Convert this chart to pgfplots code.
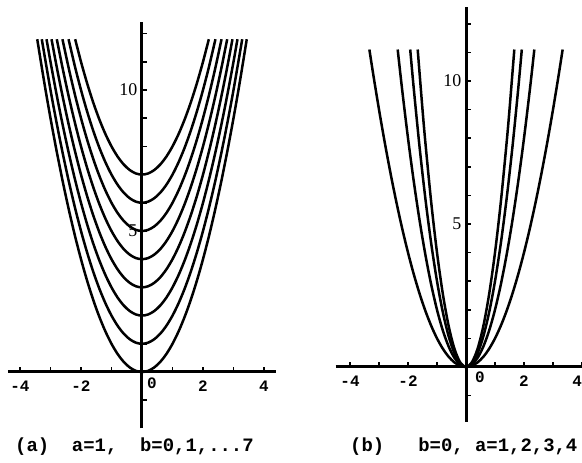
\documentclass[border=0pt]{standalone}
\usepackage{fontspec}
\setmainfont{Liberation Serif}
\newfontfamily\tw{Liberation Mono}
\usepackage{pgfplots}
\pgfplotsset{compat=1.18}

% Common look of both panels: crossing axes, unit ticks, typewriter tick labels
\pgfplotsset{
  panel/.style={
    axis lines=middle,
    enlargelimits=false,
    clip=false,
    axis line style={line width=3bp,-},
    xtick={-4,-2,2,4},
    minor xtick={-3,-1,1,3},
    ytick={5,10},
    yticklabels={5,10},
    minor ytick={-1,1,2,3,4,6,7,8,9,11,12},
    major tick length=5bp,
    minor tick length=5bp,
    every x tick/.style={black,line width=1.6bp,yshift=2.5bp},
    every y tick/.style={black,line width=1.6bp,xshift=2.5bp},
    xticklabel style={font=\tw\bfseries\fontsize{16}{16}\selectfont,
      anchor=north,inner sep=0pt,yshift=-6bp},
    yticklabel style={font=\fontsize{18}{18}\selectfont,
      anchor=east,inner sep=0pt,xshift=-2bp},
    every axis plot post/.append style={black,solid,line width=2.5bp,
      smooth,mark=none},
  },
}
\newcommand{\capfont}{\tw\bfseries\fontsize{19}{19}\selectfont}

\begin{document}
\begin{tikzpicture}
\useasboundingbox (0,0) rectangle (582bp,463bp);

% (a) y = x^2 + b, b = 0,...,7
\begin{axis}[panel,
  at={(7.8bp,34.6bp)}, anchor=south west,
  x=30.5bp, y=28.2bp,
  xmin=-4.4, xmax=4.4, ymin=-2.0, ymax=12.4,
  xticklabels={-4,-2,2,4}]
\addplot coordinates {(-3.435,11.8) (-3.2,10.24) (-3.0,9) (-2.8,7.84) (-2.6,6.76) (-2.4,5.76) (-2.2,4.84) (-2.0,4) (-1.8,3.24) (-1.6,2.56) (-1.4,1.96) (-1.2,1.44) (-1.0,1) (-0.8,0.64) (-0.6,0.36) (-0.4,0.16) (-0.2,0.04) (0,0) (0.2,0.04) (0.4,0.16) (0.6,0.36) (0.8,0.64) (1.0,1) (1.2,1.44) (1.4,1.96) (1.6,2.56) (1.8,3.24) (2.0,4) (2.2,4.84) (2.4,5.76) (2.6,6.76) (2.8,7.84) (3.0,9) (3.2,10.24) (3.435,11.8)};
\addplot coordinates {(-3.286,11.8) (-3.0,10) (-2.8,8.84) (-2.6,7.76) (-2.4,6.76) (-2.2,5.84) (-2.0,5) (-1.8,4.24) (-1.6,3.56) (-1.4,2.96) (-1.2,2.44) (-1.0,2) (-0.8,1.64) (-0.6,1.36) (-0.4,1.16) (-0.2,1.04) (0,1) (0.2,1.04) (0.4,1.16) (0.6,1.36) (0.8,1.64) (1.0,2) (1.2,2.44) (1.4,2.96) (1.6,3.56) (1.8,4.24) (2.0,5) (2.2,5.84) (2.4,6.76) (2.6,7.76) (2.8,8.84) (3.0,10) (3.286,11.8)};
\addplot coordinates {(-3.130,11.8) (-3.0,11) (-2.8,9.84) (-2.6,8.76) (-2.4,7.76) (-2.2,6.84) (-2.0,6) (-1.8,5.24) (-1.6,4.56) (-1.4,3.96) (-1.2,3.44) (-1.0,3) (-0.8,2.64) (-0.6,2.36) (-0.4,2.16) (-0.2,2.04) (0,2) (0.2,2.04) (0.4,2.16) (0.6,2.36) (0.8,2.64) (1.0,3) (1.2,3.44) (1.4,3.96) (1.6,4.56) (1.8,5.24) (2.0,6) (2.2,6.84) (2.4,7.76) (2.6,8.76) (2.8,9.84) (3.0,11) (3.130,11.8)};
\addplot coordinates {(-2.966,11.8) (-2.8,10.84) (-2.6,9.76) (-2.4,8.76) (-2.2,7.84) (-2.0,7) (-1.8,6.24) (-1.6,5.56) (-1.4,4.96) (-1.2,4.44) (-1.0,4) (-0.8,3.64) (-0.6,3.36) (-0.4,3.16) (-0.2,3.04) (0,3) (0.2,3.04) (0.4,3.16) (0.6,3.36) (0.8,3.64) (1.0,4) (1.2,4.44) (1.4,4.96) (1.6,5.56) (1.8,6.24) (2.0,7) (2.2,7.84) (2.4,8.76) (2.6,9.76) (2.8,10.84) (2.966,11.8)};
\addplot coordinates {(-2.793,11.8) (-2.6,10.76) (-2.4,9.76) (-2.2,8.84) (-2.0,8) (-1.8,7.24) (-1.6,6.56) (-1.4,5.96) (-1.2,5.44) (-1.0,5) (-0.8,4.64) (-0.6,4.36) (-0.4,4.16) (-0.2,4.04) (0,4) (0.2,4.04) (0.4,4.16) (0.6,4.36) (0.8,4.64) (1.0,5) (1.2,5.44) (1.4,5.96) (1.6,6.56) (1.8,7.24) (2.0,8) (2.2,8.84) (2.4,9.76) (2.6,10.76) (2.793,11.8)};
\addplot coordinates {(-2.608,11.8) (-2.4,10.76) (-2.2,9.84) (-2.0,9) (-1.8,8.24) (-1.6,7.56) (-1.4,6.96) (-1.2,6.44) (-1.0,6) (-0.8,5.64) (-0.6,5.36) (-0.4,5.16) (-0.2,5.04) (0,5) (0.2,5.04) (0.4,5.16) (0.6,5.36) (0.8,5.64) (1.0,6) (1.2,6.44) (1.4,6.96) (1.6,7.56) (1.8,8.24) (2.0,9) (2.2,9.84) (2.4,10.76) (2.608,11.8)};
\addplot coordinates {(-2.408,11.8) (-2.2,10.84) (-2.0,10) (-1.8,9.24) (-1.6,8.56) (-1.4,7.96) (-1.2,7.44) (-1.0,7) (-0.8,6.64) (-0.6,6.36) (-0.4,6.16) (-0.2,6.04) (0,6) (0.2,6.04) (0.4,6.16) (0.6,6.36) (0.8,6.64) (1.0,7) (1.2,7.44) (1.4,7.96) (1.6,8.56) (1.8,9.24) (2.0,10) (2.2,10.84) (2.408,11.8)};
\addplot coordinates {(-2.191,11.8) (-2.0,11) (-1.8,10.24) (-1.6,9.56) (-1.4,8.96) (-1.2,8.44) (-1.0,8) (-0.8,7.64) (-0.6,7.36) (-0.4,7.16) (-0.2,7.04) (0,7) (0.2,7.04) (0.4,7.16) (0.6,7.36) (0.8,7.64) (1.0,8) (1.2,8.44) (1.4,8.96) (1.6,9.56) (1.8,10.24) (2.0,11) (2.191,11.8)};
\node[anchor=north west,inner sep=0pt,font=\tw\bfseries\fontsize{16}{16}\selectfont]
  at (axis cs:0,0) [xshift=5bp,yshift=-6bp] {0};
\end{axis}

% (b) y = a x^2, a = 1,2,3,4
\begin{axis}[panel,
  at={(335.5bp,41.1bp)}, anchor=south west,
  x=29bp, y=28.6bp,
  xmin=-4.5, xmax=4.0, ymin=-1.92, ymax=12.6,
  xticklabels={-4,-2,2,\llap{4}}]
\addplot coordinates {(-3.332,11.1) (-3.2,10.24) (-3.0,9) (-2.8,7.84) (-2.6,6.76) (-2.4,5.76) (-2.2,4.84) (-2.0,4) (-1.8,3.24) (-1.6,2.56) (-1.4,1.96) (-1.2,1.44) (-1.0,1) (-0.8,0.64) (-0.6,0.36) (-0.4,0.16) (-0.2,0.04) (0,0) (0.2,0.04) (0.4,0.16) (0.6,0.36) (0.8,0.64) (1.0,1) (1.2,1.44) (1.4,1.96) (1.6,2.56) (1.8,3.24) (2.0,4) (2.2,4.84) (2.4,5.76) (2.6,6.76) (2.8,7.84) (3.0,9) (3.2,10.24) (3.332,11.1)};
\addplot coordinates {(-2.356,11.1) (-2.2,9.68) (-2.0,8) (-1.8,6.48) (-1.6,5.12) (-1.4,3.92) (-1.2,2.88) (-1.0,2) (-0.8,1.28) (-0.6,0.72) (-0.4,0.32) (-0.2,0.08) (0,0) (0.2,0.08) (0.4,0.32) (0.6,0.72) (0.8,1.28) (1.0,2) (1.2,2.88) (1.4,3.92) (1.6,5.12) (1.8,6.48) (2.0,8) (2.2,9.68) (2.356,11.1)};
\addplot coordinates {(-1.924,11.1) (-1.8,9.72) (-1.6,7.68) (-1.4,5.88) (-1.2,4.32) (-1.0,3) (-0.8,1.92) (-0.6,1.08) (-0.4,0.48) (-0.2,0.12) (0,0) (0.2,0.12) (0.4,0.48) (0.6,1.08) (0.8,1.92) (1.0,3) (1.2,4.32) (1.4,5.88) (1.6,7.68) (1.8,9.72) (1.924,11.1)};
\addplot coordinates {(-1.666,11.1) (-1.5,9) (-1.4,7.84) (-1.2,5.76) (-1.0,4) (-0.8,2.56) (-0.6,1.44) (-0.4,0.64) (-0.2,0.16) (0,0) (0.2,0.16) (0.4,0.64) (0.6,1.44) (0.8,2.56) (1.0,4) (1.2,5.76) (1.4,7.84) (1.5,9) (1.666,11.1)};
\node[anchor=north west,inner sep=0pt,font=\tw\bfseries\fontsize{16}{16}\selectfont]
  at (axis cs:0,0) [xshift=9bp,yshift=-5bp] {0};
\end{axis}

% Panel captions
\node[anchor=base west,inner sep=0pt,font=\capfont] at (15bp,12bp)
  {(a)\ \ a=1,\ \ b=0,1,...7};
\node[anchor=base west,inner sep=0pt,font=\capfont] at (350bp,12bp)
  {(b)\ \ \ b=0,\ a=1,2,3,4};
\end{tikzpicture}
\end{document}
